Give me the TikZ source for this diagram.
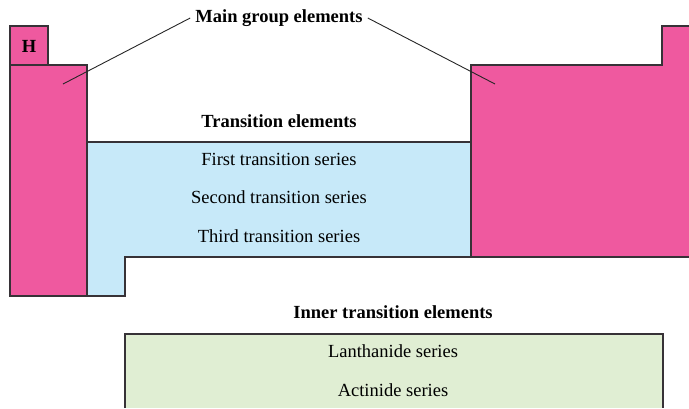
\documentclass[tikz,border=0pt]{standalone}
\usepackage{fontspec}
\setmainfont{Liberation Serif}
\definecolor{pinkfill}{RGB}{239,89,159}
\definecolor{bluefill}{RGB}{199,233,249}
\definecolor{greenfill}{RGB}{224,238,211}
\definecolor{edge}{RGB}{55,50,55}
\tikzset{
  blk/.style={draw=edge,line width=1.2pt,line join=miter},
  lbl/.style={font=\fontsize{18.5}{22}\selectfont\bfseries,inner sep=0pt},
  ser/.style={font=\fontsize{18.5}{22}\selectfont,inner sep=0pt},
  leader/.style={draw=black!85,line width=0.9pt}
}
\begin{document}
\begin{tikzpicture}[x=1pt,y=-1pt]
\useasboundingbox (0,0) rectangle (689,408);
% H box
\fill[pinkfill] (10,26) rectangle (48,65);
\draw[blk] (10,65) -- (10,26) -- (48,26) -- (48,65);
% left pink
\filldraw[blk,fill=pinkfill] (10,65) rectangle (87,296);
% blue
\filldraw[blk,fill=bluefill] (87,142) -- (471,142) -- (471,257) -- (125,257) -- (125,296) -- (87,296) -- cycle;
% right pink
\fill[pinkfill] (471,65) -- (662,65) -- (662,26) -- (689,26) -- (689,257) -- (471,257) -- cycle;
\draw[blk] (689,257) -- (471,257) -- (471,65) -- (662,65) -- (662,26) -- (689,26);
% green
\fill[greenfill] (125,334) rectangle (663,408);
\draw[blk] (125,408) -- (125,334) -- (663,334) -- (663,408);
% texts
\node[lbl] (h) at (29,46) {H};
\node[lbl] (main) at (279,18) {Main group elements};
\node[lbl] (trans) at (279,121) {Transition elements};
\node[ser] (first) at (279,159) {First transition series};
\node[ser] (second) at (279,197) {Second transition series};
\node[ser] (third) at (279,236) {Third transition series};
\node[lbl] (inner) at (393,312) {Inner transition elements};
\node[ser] (lan) at (393,351) {Lanthanide series};
\node[ser] (act) at (393,390) {Actinide series};
% leaders
\coordinate (lp) at (63,84);
\coordinate (rp) at (495,84);
\draw[leader] ([xshift=-5pt]main.west) -- (lp);
\draw[leader] ([xshift=5pt]main.east) -- (rp);
\end{tikzpicture}
\end{document}
